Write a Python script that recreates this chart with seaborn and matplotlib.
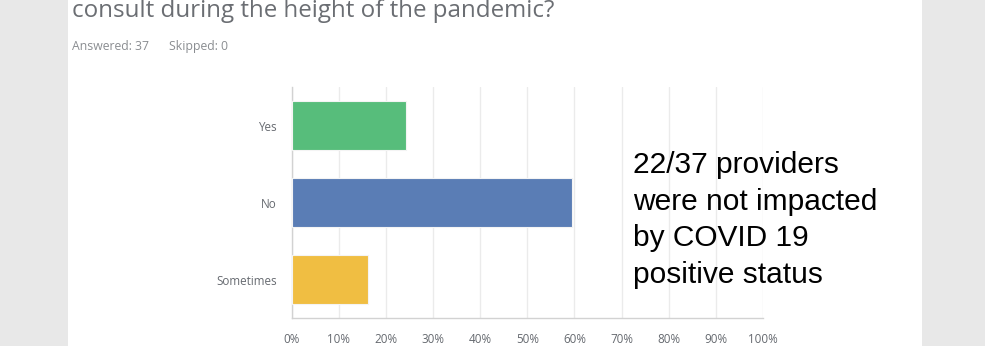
import matplotlib
matplotlib.use("Agg")
import matplotlib.pyplot as plt
from matplotlib.patches import Rectangle
from matplotlib.ticker import FuncFormatter
import seaborn as sns
import pandas as pd

# Survey responses (percent of 37 answered)
categories = ["Yes", "No", "Sometimes"]
percents = [24.32, 59.46, 16.22]
bar_colors = ["#57bd7b", "#5a7db5", "#f0be42"]
x_ticks = [0, 10, 20, 30, 40, 50, 60, 70, 80, 90, 100]

question = "consult during the height of the pandemic?"
answered = "Answered: 37"
skipped = "Skipped: 0"
note = "22/37 providers\nwere not impacted\nby COVID 19\npositive status"

df = pd.DataFrame({"answer": categories, "percent": percents})

sns.set_theme(style="white")
plt.rcParams["font.family"] = ["Open Sans", "DejaVu Sans"]

W, H = 985, 346
fig = plt.figure(figsize=(W / 100, H / 100), dpi=100)
fig.patch.set_facecolor("#e8e8e8")

# white content panel
fig.patches.append(Rectangle((68 / W, 0), (922 - 68) / W, 1, transform=fig.transFigure,
                             facecolor="white", edgecolor="none", zorder=-5))

ax = fig.add_axes([291.7 / W, 1 - 318 / H, (763 - 291.7) / W, (318 - 87) / H])
ax.set_facecolor("white")
ax.set_zorder(2)

sns.barplot(data=df, x="percent", y="answer", hue="answer", palette=bar_colors,
            order=categories, hue_order=categories, orient="h", width=0.645,
            saturation=1, legend=False, edgecolor="#f4f4f4", linewidth=0.8,
            ax=ax, zorder=3)

ax.set_xlim(0, 100)
ax.set_ylim(2.5, -0.5)
ax.set_xticks(x_ticks)
ax.xaxis.set_major_formatter(FuncFormatter(lambda v, _: f"{int(v)}%"))
ax.grid(axis="x", color="#ebebeb", linewidth=1, zorder=0)
ax.grid(axis="y", visible=False)
ax.set_axisbelow(True)
ax.set_xlabel("")
ax.set_ylabel("")

for side in ["top", "right"]:
    ax.spines[side].set_visible(False)
for side in ["left", "bottom"]:
    ax.spines[side].set_color("#d2d2d2")
    ax.spines[side].set_linewidth(1)

ax.tick_params(axis="x", length=0, pad=10.5, labelsize=8.4, labelcolor="#666a70")
ax.tick_params(axis="y", length=0, pad=10.8, labelsize=8.4, labelcolor="#666a70")

fig.text(72 / W, 1 - 17 / H, question, fontsize=17.4, color="#6b6e73",
         ha="left", va="baseline", zorder=5)
fig.text(72 / W, 1 - 50 / H, answered, fontsize=8.8, color="#8a8d91",
         ha="left", va="baseline", zorder=5)
fig.text(169 / W, 1 - 50 / H, skipped, fontsize=8.8, color="#8a8d91",
         ha="left", va="baseline", zorder=5)

# multi-line note: anchored at the baseline of its last line
fig.text(633 / W, 1 - 283 / H, note, fontsize=21.5, color="black",
         family=["Liberation Sans", "DejaVu Sans"], ha="left", va="baseline",
         linespacing=1.39, zorder=5)

fig.savefig("out.png", dpi=100, facecolor=fig.get_facecolor())
